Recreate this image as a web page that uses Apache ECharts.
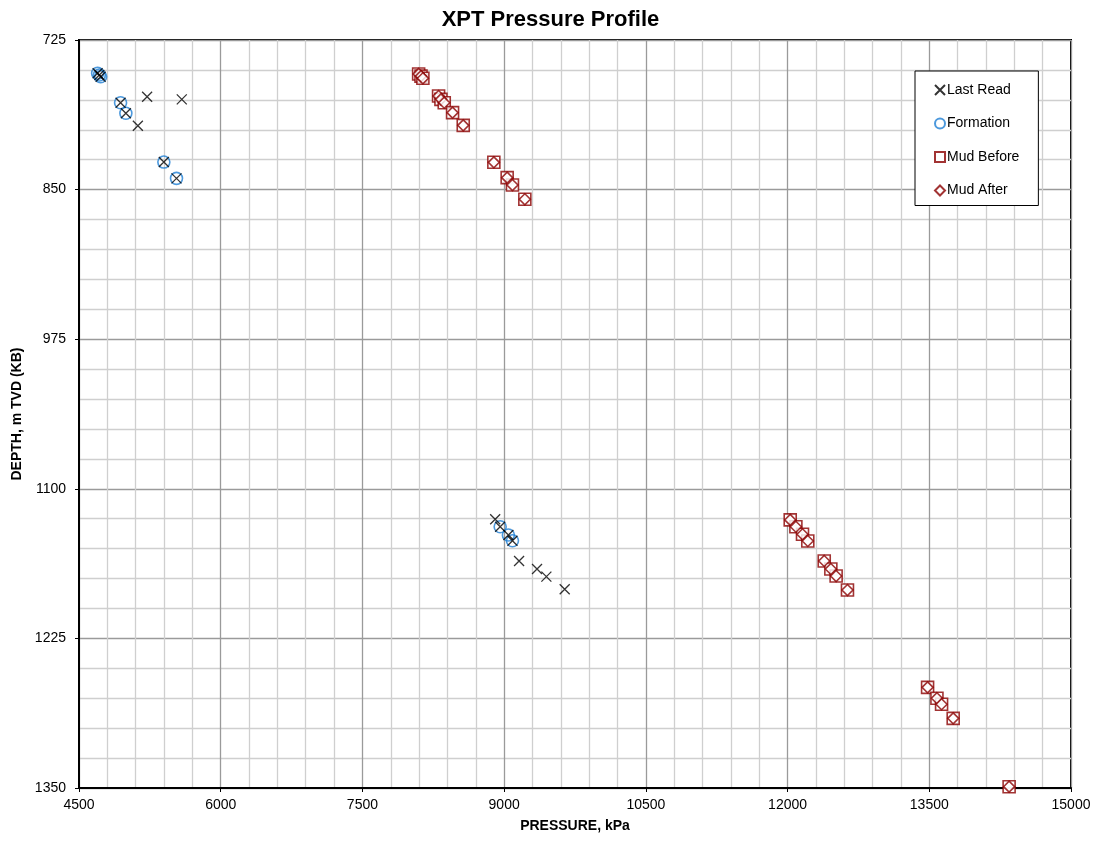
<!DOCTYPE html>
<html>
<head>
<meta charset="utf-8">
<title>XPT Pressure Profile</title>
<script src="https://cdn.jsdelivr.net/npm/echarts@6/dist/echarts.min.js"></script>
<style>
  html, body { margin: 0; padding: 0; background: #fff; }
  #chart { width: 1101px; height: 844px; }
</style>
</head>
<body>
<div id="chart"></div>
<script>
// Pressure tests: pressure in kPa, depth in m TVD (KB)
const lastReadPressure = [4697, 4715, 4729, 5221, 5588, 4940, 4996, 5123, 5398, 5532,
                          8905, 8958, 9045, 9088, 9158, 9348, 9447, 9641];
const lastReadDepth    = [752.8, 754.3, 755.7, 772.4, 774.6, 777.4, 786.2, 796.6, 827.0, 840.6,
                          1125.5, 1131.7, 1138.6, 1143.4, 1160.3, 1167.0, 1173.4, 1184.0];

const formationPressure = [4697, 4715, 4729, 4940, 4996, 5398, 5532, 8958, 9045, 9088];
const formationDepth    = [752.8, 754.3, 755.7, 777.4, 786.2, 827.0, 840.6, 1131.7, 1138.6, 1143.4];

const mudBeforePressure = [8095, 8120, 8140, 8306, 8331, 8366, 8454, 8567, 8891, 9032, 9088, 9219,
                           12028, 12088, 12158, 12214, 12388, 12458, 12514, 12634,
                           13482, 13581, 13630, 13753, 14345];
const mudBeforeDepth    = [753.4, 755.2, 757.0, 771.8, 774.6, 777.4, 785.7, 796.3, 827.2, 840.0, 846.2, 858.1,
                           1126.0, 1131.7, 1138.0, 1143.6, 1160.3, 1167.0, 1172.9, 1184.6,
                           1265.9, 1275.0, 1280.0, 1291.8, 1348.9];

const mudAfterPressure = [8095, 8120, 8140, 8306, 8331, 8366, 8454, 8567, 8891, 9032, 9088, 9219,
                          12028, 12088, 12158, 12214, 12388, 12458, 12514, 12634,
                          13482, 13581, 13630, 13753, 14345];
const mudAfterDepth    = [753.4, 755.2, 757.0, 771.8, 774.6, 777.4, 785.7, 796.3, 827.2, 840.0, 846.2, 858.1,
                          1126.0, 1131.7, 1138.0, 1143.6, 1160.3, 1167.0, 1172.9, 1184.6,
                          1265.9, 1275.0, 1280.0, 1291.8, 1348.9];

const pressureTicks = { min: 4500, max: 15000, step: 1500 };
const depthTicks    = { min: 725, max: 1350, step: 125 };

const pairs = (xs, ys) => xs.map((x, i) => [x, ys[i]]);
const plain = v => String(v);

const FONT = '"Liberation Sans", Arial, sans-serif';
const MUD_RED = '#8b0000';
const crossPath = 'path://M0,0L10,10M10,0L0,10';

const chart = echarts.init(document.getElementById('chart'), null, { renderer: 'canvas' });

chart.setOption({
  animation: false,
  backgroundColor: '#ffffff',
  textStyle: { fontFamily: FONT },
  title: {
    text: 'XPT Pressure Profile',
    left: 'center',
    top: 4,
    textStyle: { fontFamily: FONT, fontSize: 22, fontWeight: 'bold', color: '#000' }
  },
  grid: {
    left: 79, right: 30, top: 40, bottom: 56,
    show: true,
    borderColor: '#000', borderWidth: 2,
    backgroundColor: 'transparent'
  },
  legend: {
    orient: 'vertical',
    left: 915, top: 71,
    padding: [12, 19, 8, 19],
    itemGap: 19.5,
    itemWidth: 10, itemHeight: 10,
    backgroundColor: '#fff',
    borderColor: '#000', borderWidth: 1,
    textStyle: { fontFamily: FONT, fontSize: 14, color: '#000', padding: [0, 0, 0, -3] },
    data: ['Last Read', 'Formation', 'Mud Before', 'Mud After']
  },
  xAxis: {
    type: 'value',
    min: pressureTicks.min, max: pressureTicks.max, interval: pressureTicks.step,
    name: 'PRESSURE, kPa',
    nameLocation: 'middle',
    nameGap: 31,
    nameTextStyle: { fontFamily: FONT, fontSize: 14, fontWeight: 'bold', color: '#000' },
    axisLine: { show: true, onZero: false, lineStyle: { color: '#000', width: 2 } },
    axisTick: { show: true, length: 4, lineStyle: { color: '#000' } },
    axisLabel: { fontFamily: FONT, fontSize: 14, color: '#000', margin: 10, formatter: plain },
    splitLine: { show: true, lineStyle: { color: '#9a9a9a', width: 1.3 } },
    minorTick: { show: false, splitNumber: 5 },
    minorSplitLine: { show: true, lineStyle: { color: '#cfcfcf', width: 1.3 } }
  },
  yAxis: {
    type: 'value',
    inverse: true,
    min: depthTicks.min, max: depthTicks.max, interval: depthTicks.step,
    name: 'DEPTH, m TVD (KB)',
    nameLocation: 'middle',
    nameGap: 55,
    nameTextStyle: { fontFamily: FONT, fontSize: 14, fontWeight: 'bold', color: '#000' },
    axisLine: { show: true, onZero: false, lineStyle: { color: '#000', width: 2 } },
    axisTick: { show: true, length: 4, lineStyle: { color: '#000' } },
    axisLabel: { fontFamily: FONT, fontSize: 14, color: '#000', margin: 13, formatter: plain },
    splitLine: { show: true, lineStyle: { color: '#9a9a9a', width: 1.3 } },
    minorTick: { show: false, splitNumber: 5 },
    minorSplitLine: { show: true, lineStyle: { color: '#cfcfcf', width: 1.3 } }
  },
  series: [
    {
      name: 'Mud Before',
      type: 'scatter',
      symbol: 'rect',
      symbolSize: 12,
      z: 2,
      itemStyle: { color: '#ffffff', borderColor: MUD_RED, borderWidth: 1.6 },
      data: pairs(mudBeforePressure, mudBeforeDepth)
    },
    {
      name: 'Mud After',
      type: 'scatter',
      symbol: 'diamond',
      symbolSize: [11, 11],
      z: 3,
      itemStyle: { color: '#ffffff', borderColor: MUD_RED, borderWidth: 1.6 },
      data: pairs(mudAfterPressure, mudAfterDepth)
    },
    {
      name: 'Formation',
      type: 'scatter',
      symbol: 'circle',
      symbolSize: 12,
      z: 4,
      itemStyle: { color: 'rgba(255,255,255,0)', borderColor: '#1f7fd4', borderWidth: 1.6 },
      data: pairs(formationPressure, formationDepth)
    },
    {
      name: 'Last Read',
      type: 'scatter',
      symbol: crossPath,
      symbolSize: 10,
      z: 5,
      itemStyle: { color: 'rgba(0,0,0,0)', borderColor: '#000', borderWidth: 1.3 },
      data: pairs(lastReadPressure, lastReadDepth)
    }
  ]
});
</script>
</body>
</html>
